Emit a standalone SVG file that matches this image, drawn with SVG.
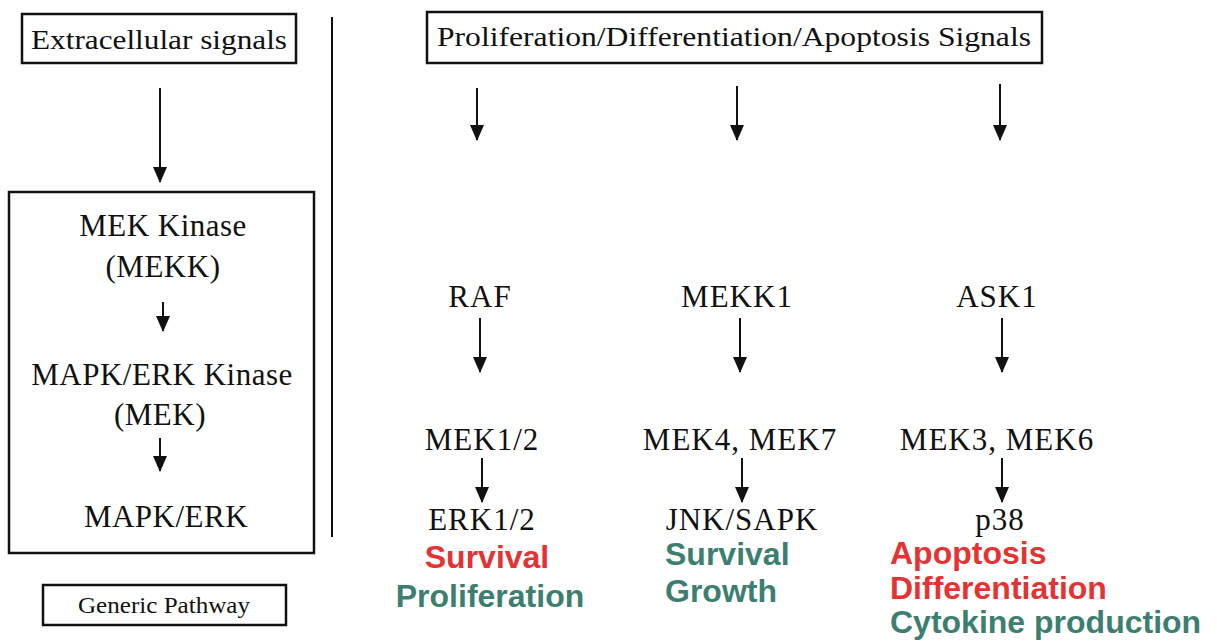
<svg xmlns="http://www.w3.org/2000/svg" width="1217" height="642" viewBox="0 0 1217 642">
<defs>
<marker id="ah" markerWidth="16" markerHeight="14" refX="15" refY="7" orient="auto" markerUnits="userSpaceOnUse" viewBox="0 0 16 14">
<path d="M0,0 L16,7 L0,14 Z" fill="#111"/>
</marker>
<style>
.box{fill:#fff;stroke:#111;stroke-width:2.5}
.t{font-family:"Liberation Serif","Times New Roman",serif;fill:#111;text-anchor:middle}
.b{font-family:"Liberation Sans",Arial,sans-serif;font-weight:bold;font-size:32px}
.red{fill:#e53232}
.teal{fill:#3c7e6f}
.con line{stroke:#111;stroke-width:2;marker-end:url(#ah)}
</style>
</defs>
<rect width="1217" height="642" fill="#fff"/>
<line x1="332" y1="17" x2="332" y2="537" stroke="#111" stroke-width="2"/>
<g id="extracellular">
<rect class="box" x="22" y="14" width="274" height="49"/>
<text class="t" x="159" y="49" font-size="27" textLength="256" lengthAdjust="spacingAndGlyphs">Extracellular signals</text>
</g>
<g id="generic-box">
<rect class="box" x="9" y="192" width="305" height="361" fill="none"/>
<text class="t" x="163" y="236" font-size="31" letter-spacing="0.5">MEK Kinase</text>
<text class="t" x="163" y="277" font-size="31" letter-spacing="0.5">(MEKK)</text>
<text class="t" x="162" y="385" font-size="31" letter-spacing="0.5">MAPK/ERK Kinase</text>
<text class="t" x="160" y="425" font-size="31" letter-spacing="0.5">(MEK)</text>
<text class="t" x="166" y="527" font-size="31" letter-spacing="0.5">MAPK/ERK</text>
</g>
<g id="generic-label">
<rect class="box" x="43" y="585" width="243" height="40"/>
<text class="t" x="164" y="613" font-size="23" fill="#333" textLength="172" lengthAdjust="spacingAndGlyphs">Generic Pathway</text>
</g>
<g id="signals">
<rect class="box" x="427" y="12" width="615" height="51"/>
<text class="t" x="734" y="46" font-size="27" textLength="594" lengthAdjust="spacingAndGlyphs">Proliferation/Differentiation/Apoptosis Signals</text>
</g>
<g id="raf"><text class="t" x="480" y="307" font-size="31" letter-spacing="1">RAF</text></g>
<g id="mekk1"><text class="t" x="737" y="307" font-size="31" letter-spacing="1">MEKK1</text></g>
<g id="ask1"><text class="t" x="997" y="307" font-size="31" letter-spacing="1">ASK1</text></g>
<g id="mek12"><text class="t" x="482" y="450" font-size="31" letter-spacing="1">MEK1/2</text></g>
<g id="mek47"><text class="t" x="740" y="450" font-size="31" letter-spacing="1">MEK4, MEK7</text></g>
<g id="mek36"><text class="t" x="997" y="450" font-size="31" letter-spacing="1">MEK3, MEK6</text></g>
<g id="erk12"><text class="t" x="482" y="530" font-size="31" letter-spacing="1">ERK1/2</text></g>
<g id="jnk"><text class="t" x="742" y="530" font-size="31" letter-spacing="1">JNK/SAPK</text></g>
<g id="p38"><text class="t" x="1000" y="530" font-size="31" letter-spacing="1">p38</text></g>
<g id="out-erk">
<text class="b red" x="487" y="568" text-anchor="middle">Survival</text>
<text class="b teal" x="490" y="607" text-anchor="middle">Proliferation</text>
</g>
<g id="out-jnk">
<text class="b teal" x="665" y="565">Survival</text>
<text class="b teal" x="665" y="602">Growth</text>
</g>
<g id="out-p38">
<text class="b red" x="890" y="564">Apoptosis</text>
<text class="b red" x="890" y="599">Differentiation</text>
<text class="b teal" x="890" y="633">Cytokine production</text>
</g>
<g class="con" id="connectors">
<line x1="160" y1="88" x2="160" y2="182"/>
<line x1="163" y1="302" x2="163" y2="331"/>
<line x1="160" y1="438" x2="160" y2="471"/>
<line x1="477" y1="88" x2="477" y2="140"/>
<line x1="737" y1="86" x2="737" y2="140"/>
<line x1="1000" y1="84" x2="1000" y2="140"/>
<line x1="480" y1="318" x2="480" y2="372"/>
<line x1="740" y1="318" x2="740" y2="372"/>
<line x1="1002" y1="318" x2="1002" y2="372"/>
<line x1="482" y1="458" x2="482" y2="502"/>
<line x1="742" y1="458" x2="742" y2="502"/>
<line x1="1002" y1="458" x2="1002" y2="502"/>
</g>
</svg>
